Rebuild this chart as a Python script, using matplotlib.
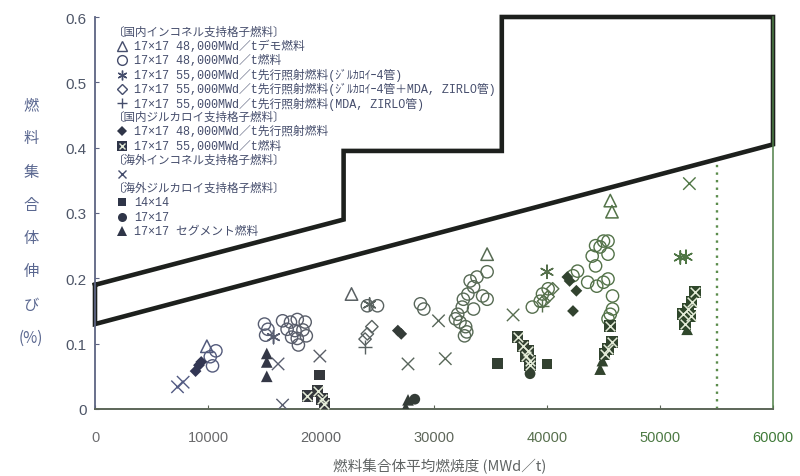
import numpy as np
import matplotlib
matplotlib.use("Agg")
import matplotlib.pyplot as plt
from matplotlib.colors import LinearSegmentedColormap

plt.rcParams['font.family'] = ['Noto Sans CJK JP', 'DejaVu Sans']

# ---- envelope (design limit) ----
env_x = [0, 22000, 22000, 36000, 36000, 60000, 60000, 0, 0]
env_y = [0.19, 0.29, 0.395, 0.395, 0.6, 0.6, 0.405, 0.13, 0.19]
lower_x = [0, 60000]
lower_y = [0.13, 0.405]
limit_burnup = 55000

# ---- domestic Inconel grid fuel ----
demo48_x = [9900, 22700, 34700, 45600, 45750]
demo48_y = [0.096, 0.176, 0.237, 0.319, 0.302]

fuel48_x = [10700, 10200, 10400,
            15000, 15300, 15100,
            16600, 17300, 17900, 18600, 17000, 17700, 18400, 17400, 17900, 18000, 18700,
            24100, 25000, 28800, 29100,
            34700, 33800, 33200, 33500, 33000, 32600, 32500, 32100, 31900, 32300,
            32800, 32900, 32700, 33500, 34300, 34700,
            38700, 39400, 39600, 40100,
            45000, 45400, 44300, 44700, 44000, 45400, 44300, 44400, 43600, 45000,
            45400, 42700, 42300, 45800, 45800, 45600, 45400]
fuel48_y = [0.089, 0.080, 0.066,
            0.130, 0.122, 0.113,
            0.135, 0.133, 0.137, 0.133, 0.122, 0.120, 0.121, 0.110, 0.108, 0.098, 0.112,
            0.158, 0.158, 0.161, 0.153,
            0.210, 0.202, 0.196, 0.187, 0.176, 0.168, 0.156, 0.145, 0.138, 0.133,
            0.126, 0.118, 0.112, 0.153, 0.173, 0.168,
            0.156, 0.165, 0.176, 0.184,
            0.257, 0.257, 0.250, 0.248, 0.234, 0.237, 0.219, 0.188, 0.194, 0.194,
            0.199, 0.211, 0.204, 0.173, 0.153, 0.145, 0.138]

lead55_zry_x = [15800, 24300, 40000, 51800, 52300]
lead55_zry_y = [0.110, 0.160, 0.210, 0.232, 0.233]

lead55_mix_x = [24500, 24100, 23900, 40100, 40500, 39700]
lead55_mix_y = [0.126, 0.115, 0.107, 0.172, 0.184, 0.165]

lead55_mda_x = [23900, 39600]
lead55_mda_y = [0.095, 0.158]

# ---- domestic Zircaloy grid fuel ----
zr48_x = [8900, 9200, 9400, 26800, 27100, 41800, 42000, 42600, 42300]
zr48_y = [0.058, 0.067, 0.072, 0.120, 0.115, 0.202, 0.196, 0.181, 0.150]

zr55_x = [18800, 19700, 20100, 20300,
          37400, 37900, 38300, 38100, 38500, 38500,
          45600, 45750, 45400, 45100,
          53100, 52800, 52500, 52000, 52700, 52200]
zr55_y = [0.020, 0.028, 0.015, 0.008,
          0.110, 0.096, 0.089, 0.081, 0.073, 0.067,
          0.127, 0.103, 0.092, 0.084,
          0.179, 0.164, 0.153, 0.145, 0.142, 0.130]

# ---- overseas Inconel grid fuel ----
os_inc_x = [7300, 7800, 16200, 16600, 19900, 27700, 30400, 31000, 37000, 52600]
os_inc_y = [0.034, 0.041, 0.069, 0.006, 0.081, 0.069, 0.135, 0.077, 0.144, 0.345]

# ---- overseas Zircaloy grid fuel ----
os_14_x = [19900, 35600, 40000]
os_14_y = [0.052, 0.070, 0.069]
os_17_x = [28300, 38500]
os_17_y = [0.015, 0.054]
os_seg_x = [15200, 15200, 15200, 27500, 27700, 44900, 44700, 52400]
os_seg_y = [0.085, 0.072, 0.050, 0.002, 0.014, 0.074, 0.061, 0.122]

x_ticks = [0, 10000, 20000, 30000, 40000, 50000, 60000]
x_tick_labels = ['0', '10000', '20000', '30000', '40000', '50000', '60000']
y_ticks = [0, 0.1, 0.2, 0.3, 0.4, 0.5, 0.6]
y_tick_labels = ['0', '0.1', '0.2', '0.3', '0.4', '0.5', '0.6']

legend_rows = [
    ('head', '〔国内インコネル支持格子燃料〕'),
    ('demo', '17×17 48,000MWd／tデモ燃料'),
    ('f48', '17×17 48,000MWd／t燃料'),
    ('ast', '17×17 55,000MWd／t先行照射燃料(ｼﾞﾙｶﾛｲｰ4管)'),
    ('dia', '17×17 55,000MWd／t先行照射燃料(ｼﾞﾙｶﾛｲｰ4管＋MDA, ZIRLO管)'),
    ('plus', '17×17 55,000MWd／t先行照射燃料(MDA, ZIRLO管)'),
    ('head', '〔国内ジルカロイ支持格子燃料〕'),
    ('zr48', '17×17 48,000MWd／t先行照射燃料'),
    ('zr55', '17×17 55,000MWd／t燃料'),
    ('head', '〔海外インコネル支持格子燃料〕'),
    ('osx', ''),
    ('head', '〔海外ジルカロイ支持格子燃料〕'),
    ('os14', '14×14'),
    ('os17', '17×17'),
    ('seg', '17×17 セグメント燃料'),
]

# colour drift across the sheet: slate blue on the left, green on the right
open_cmap = LinearSegmentedColormap.from_list(
    'open', ['#4d5894', '#5a5e66', '#56704c', '#4b7a40'])
fill_cmap = LinearSegmentedColormap.from_list(
    'fill', ['#2f3566', '#35383c', '#334230', '#2d4a28'])


def ocol(xs):
    return open_cmap(np.asarray(xs) / 60000.0)


def fcol(xs):
    return fill_cmap(np.asarray(xs) / 60000.0)


fig = plt.figure(figsize=(8, 4.77), dpi=100)
fig.patch.set_facecolor('white')
ax = fig.add_axes([95 / 800, 67 / 477, 678 / 800, 392 / 477])
ax.set_xlim(0, 60000)
ax.set_ylim(0, 0.6)

# envelope
ax.plot(env_x, env_y, color='#1d201d', lw=3.3, clip_on=False,
        solid_joinstyle='miter', zorder=2)
ax.plot([limit_burnup, limit_burnup],
        [0, np.interp(limit_burnup, lower_x, lower_y)],
        color='#5b8c4c', ls=(0, (1, 2.2)), lw=1.7, zorder=1)

# data
ax.scatter(fuel48_x, fuel48_y, marker='o', s=78, facecolors='none',
           edgecolors=ocol(fuel48_x), linewidths=1.0, zorder=3)
ax.scatter(demo48_x, demo48_y, marker='^', s=80, facecolors='none',
           edgecolors=ocol(demo48_x), linewidths=1.1, zorder=3)
ax.scatter(lead55_zry_x, lead55_zry_y, marker=(6, 2, 0), s=90,
           color=ocol(lead55_zry_x), linewidths=1.1, zorder=3)
ax.scatter(lead55_mix_x, lead55_mix_y, marker='D', s=40, facecolors='none',
           edgecolors=ocol(lead55_mix_x), linewidths=1.0, zorder=3)
ax.scatter(lead55_mda_x, lead55_mda_y, marker='+', s=90,
           color=ocol(lead55_mda_x), linewidths=1.0, zorder=3)
ax.scatter(os_inc_x, os_inc_y, marker='x', s=80,
           color=ocol(os_inc_x), linewidths=1.0, zorder=3)
ax.scatter(zr48_x, zr48_y, marker='D', s=36, color=fcol(zr48_x),
           edgecolors='none', zorder=4)
ax.scatter(zr55_x, zr55_y, marker='s', s=70, color=fcol(zr55_x),
           edgecolors='none', zorder=4)
ax.scatter(zr55_x, zr55_y, marker='x', s=48, color='#e4ecd8',
           linewidths=1.1, zorder=5)
ax.scatter(os_14_x, os_14_y, marker='s', s=60, color=fcol(os_14_x),
           edgecolors='none', zorder=4)
ax.scatter(os_17_x, os_17_y, marker='o', s=60, color=fcol(os_17_x),
           edgecolors='none', zorder=4)
ax.scatter(os_seg_x, os_seg_y, marker='^', s=70, color=fcol(os_seg_x),
           edgecolors='none', zorder=4)

# legend block
leg_col = '#454d6c'
leg_fill = '#2f3548'
leg_family = ['Liberation Mono', 'Noto Sans CJK JP', 'DejaVu Sans']
row0_px, row_step_px = 33, 14.2
for i, (kind, label) in enumerate(legend_rows):
    ypx = row0_px + i * row_step_px
    yfrac = (410 - ypx) / 392
    if kind == 'head':
        ax.text((113 - 95) / 678, yfrac, label, transform=ax.transAxes,
                fontsize=8.3, color=leg_col, va='center', ha='left',
                family=leg_family)
        continue
    mx = (122 - 95) / 678
    kw = dict(transform=ax.transAxes, clip_on=False, zorder=6)
    if kind == 'demo':
        ax.plot(mx, yfrac, marker='^', ms=7, mfc='none', mec=leg_col, mew=1, **kw)
    elif kind == 'f48':
        ax.plot(mx, yfrac, marker='o', ms=7, mfc='none', mec=leg_col, mew=1, **kw)
    elif kind == 'ast':
        ax.plot(mx, yfrac, marker=(6, 2, 0), ms=7, color=leg_col, mew=1, **kw)
    elif kind == 'dia':
        ax.plot(mx, yfrac, marker='D', ms=5.5, mfc='none', mec=leg_col, mew=1, **kw)
    elif kind == 'plus':
        ax.plot(mx, yfrac, marker='+', ms=7, color=leg_col, mew=1, **kw)
    elif kind == 'zr48':
        ax.plot(mx, yfrac, marker='D', ms=5, color=leg_fill, mew=0, **kw)
    elif kind == 'zr55':
        ax.plot(mx, yfrac, marker='s', ms=7, color=leg_fill, mew=0, **kw)
        ax.plot(mx, yfrac, marker='x', ms=5, color='#e4ecd8', mew=1, **kw)
    elif kind == 'osx':
        ax.plot(mx, yfrac, marker='x', ms=6, color=leg_col, mew=1, **kw)
    elif kind == 'os14':
        ax.plot(mx, yfrac, marker='s', ms=6, color=leg_fill, mew=0, **kw)
    elif kind == 'os17':
        ax.plot(mx, yfrac, marker='o', ms=6.5, color=leg_fill, mew=0, **kw)
    elif kind == 'seg':
        ax.plot(mx, yfrac, marker='^', ms=7, color=leg_fill, mew=0, **kw)
    if label:
        ax.text((134 - 95) / 678, yfrac, label, transform=ax.transAxes,
                fontsize=8.5, color=leg_col, va='center', ha='left',
                family=leg_family)

# axes frame
ax.spines['top'].set_visible(False)
ax.spines['left'].set_color('#5d6482')
ax.spines['left'].set_linewidth(1.3)
ax.spines['bottom'].set_color('#5c6658')
ax.spines['bottom'].set_linewidth(1.4)
ax.spines['right'].set_color('#4f8048')
ax.spines['right'].set_linewidth(1.1)

ax.set_xticks(x_ticks)
ax.set_xticklabels(x_tick_labels, fontsize=10.5, family=['Liberation Sans', 'DejaVu Sans'])
ax.set_yticks(y_ticks)
ax.set_yticklabels(y_tick_labels, fontsize=11, family=['Liberation Sans', 'DejaVu Sans'])
ax.tick_params(axis='x', direction='in', length=3, pad=15, color='#5c6658')
ax.tick_params(axis='y', direction='in', length=3, pad=6, color='#5d6482')
ax.tick_params(right=False, top=False)

xtick_colors = ['#6d6d70', '#6a6a6c', '#626466', '#5e665a', '#58704e', '#4d7a44', '#3f7a38']
for lbl, c in zip(ax.get_xticklabels(), xtick_colors):
    lbl.set_color(c)
for lbl in ax.get_yticklabels():
    lbl.set_color('#4e5668')

# axis titles
fig.text(31 / 800, 1 - 222 / 477, '燃\n料\n集\n合\n体\n伸\nび\n(%)',
         ha='center', va='center', fontsize=11, color='#5a6790', linespacing=2.25)
fig.text(440 / 800, 1 - 466 / 477, '燃料集合体平均燃焼度 (MWd／t)',
         ha='center', va='center', fontsize=10.5, color='#606464')

fig.savefig('out.png', dpi=100, facecolor='white')
